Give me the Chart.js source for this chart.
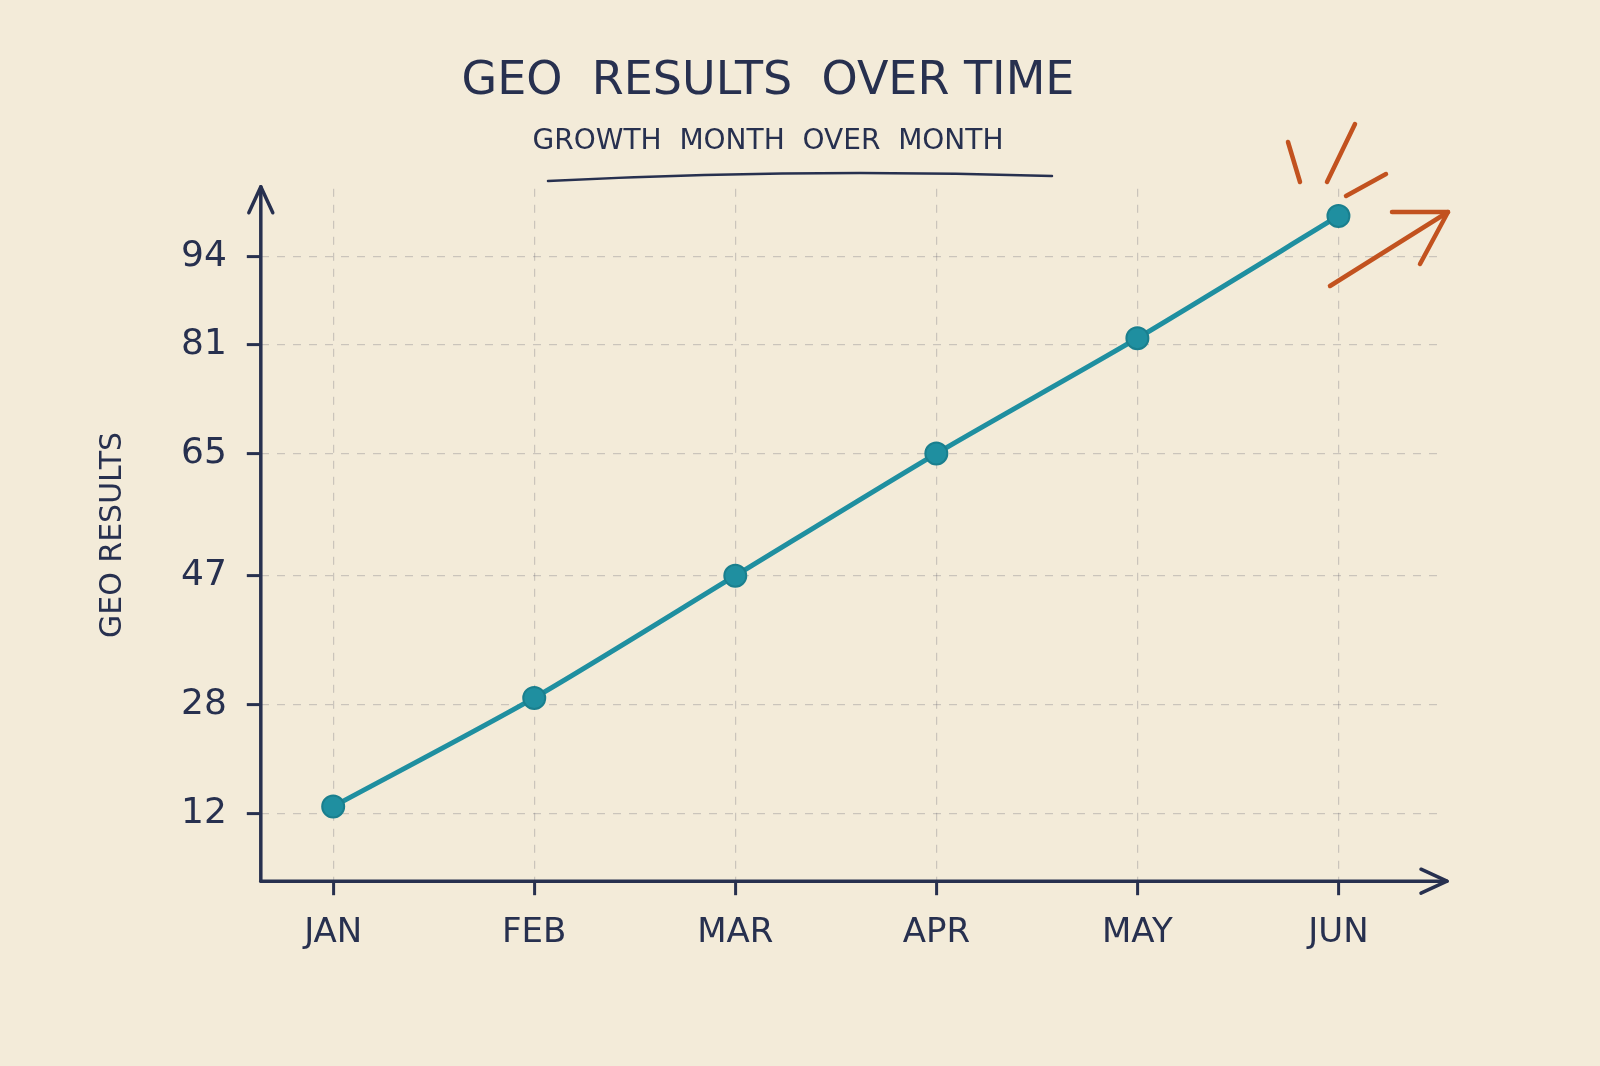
<!DOCTYPE html>
<html><head><meta charset="utf-8">
<script src="https://cdn.jsdelivr.net/npm/chart.js@4"></script>
<style>html,body{margin:0;padding:0;background:#f3ebd9;}#w{width:1600px;height:1066px;}</style>
</head><body><div id="w"><canvas id="c"></canvas></div>
<script>
const months = ["JAN","FEB","MAR","APR","MAY","JUN"];
const geoResults = [13, 29, 47, 65, 82, 100];
const yTicks = [12, 28, 47, 65, 81, 94];
const ink = '#27304f';
const deco = {
  id:'deco',
  afterDraw(ch){
    const c=ch.ctx, a=ch.chartArea;
    c.save();
    c.strokeStyle=ink; c.lineWidth=3.5; c.lineCap='round'; c.lineJoin='round';
    c.beginPath(); c.moveTo(a.left,a.bottom); c.lineTo(a.left,a.top-2); c.stroke();
    c.beginPath(); c.moveTo(a.left-12,a.top+24); c.lineTo(a.left,a.top-2); c.lineTo(a.left+12,a.top+24); c.stroke();
    c.beginPath(); c.moveTo(a.left,a.bottom); c.lineTo(a.right+2,a.bottom); c.stroke();
    c.beginPath(); c.moveTo(a.right-24,a.bottom-12); c.lineTo(a.right+2,a.bottom); c.lineTo(a.right-24,a.bottom+12); c.stroke();
    c.lineWidth=2.5;
    c.beginPath(); c.moveTo(548,181); c.quadraticCurveTo(800,168,1052,176); c.stroke();
    c.strokeStyle='#c2521f'; c.lineWidth=4.5;
    c.beginPath(); c.moveTo(1330,286); c.lineTo(1448,212); c.stroke();
    c.beginPath(); c.moveTo(1392,212); c.lineTo(1448,212); c.lineTo(1420,264); c.stroke();
    c.beginPath(); c.moveTo(1288,142); c.lineTo(1300,182); c.stroke();
    c.beginPath(); c.moveTo(1355,124); c.lineTo(1327,182); c.stroke();
    c.beginPath(); c.moveTo(1386,174); c.lineTo(1346,196); c.stroke();
    c.restore();
  }
};
new Chart(document.getElementById('c'),{
  type:'line',
  data:{datasets:[{data:geoResults.map((v,i)=>({x:i,y:v})),borderColor:'#1f8fa0',backgroundColor:'#1f8fa0',
    borderWidth:5,tension:0.25,pointRadius:11,pointHoverRadius:11,pointBorderColor:'#1a7f8e',pointBorderWidth:2}]},
  options:{responsive:true,maintainAspectRatio:false,animation:false,
    layout:{padding:{left:91,right:155,top:30,bottom:94}},
    plugins:{legend:{display:false},tooltip:{enabled:false},
      title:{display:true,text:'GEO  RESULTS  OVER TIME',color:ink,font:{family:'DejaVu Sans',size:46,weight:'normal'},padding:{top:24,bottom:16}},
      subtitle:{display:true,text:'GROWTH  MONTH  OVER  MONTH',color:ink,font:{family:'DejaVu Sans',size:28},padding:{bottom:30}}},
    scales:{
      x:{type:'linear',min:-0.36,max:5.53,
        afterBuildTicks(s){s.ticks=months.map((m,i)=>({value:i}));},
        ticks:{callback:v=>months[v],color:ink,font:{family:'DejaVu Sans',size:34},padding:18},
        grid:{color:'rgba(60,60,80,0.22)',lineWidth:1.2,tickLength:14,tickColor:ink,tickWidth:3},
        border:{display:false,dash:[8,8]}},
      y:{type:'linear',min:2,max:104,
        afterBuildTicks(s){s.ticks=yTicks.map(v=>({value:v}));},
        ticks:{color:ink,font:{family:'DejaVu Sans',size:36},padding:20},
        grid:{color:'rgba(60,60,80,0.22)',lineWidth:1.2,tickLength:14,tickColor:ink,tickWidth:3},
        border:{display:false,dash:[8,8]},
        title:{display:true,text:'GEO RESULTS',color:ink,font:{family:'DejaVu Sans',size:30},padding:{bottom:30}}}
    }},
  plugins:[deco]
});
</script></body></html>
